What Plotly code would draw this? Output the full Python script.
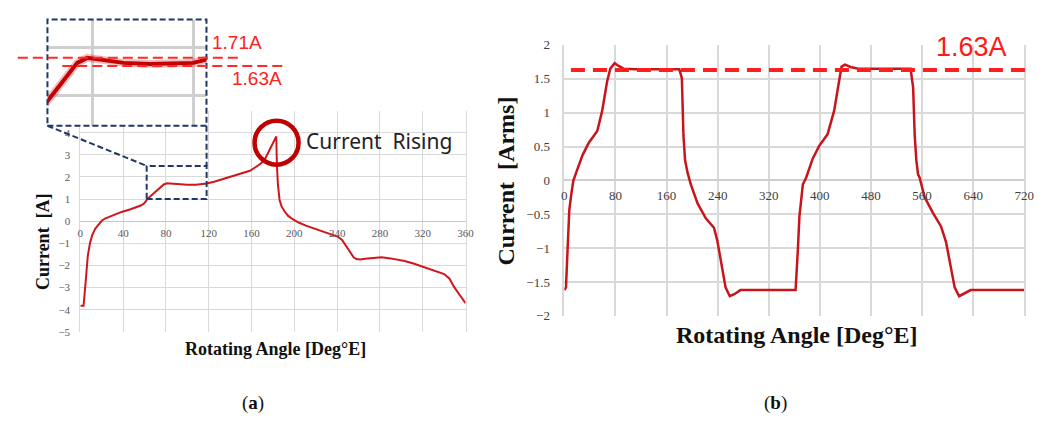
import plotly.graph_objects as go

# ---------------- data ----------------
# (a) phase current over one electrical revolution
a_angle = [0, 3, 4.5, 5.5, 7, 9, 11, 14, 17, 20, 23, 30, 38.5, 47, 57, 60, 62.5,
           66, 70, 74, 78, 81, 86, 92, 100, 108, 113, 118, 125, 137, 150, 158.5,
           164, 169, 173, 177, 180, 183.1, 183.7, 184.6, 186.2, 188, 190.8, 194,
           198.5, 204, 210.8, 220, 229.3, 236, 241, 244.6, 248, 252, 255.4, 258,
           261.6, 266, 272, 281.5, 290, 297, 303, 312, 321.6, 330, 340, 345,
           349.3, 354, 360]
a_current = [-3.82, -3.82, -3.0, -2.53, -1.55, -1.0, -0.64, -0.33, -0.13, 0.02, 0.12,
             0.27, 0.42, 0.54, 0.72, 0.82, 1.0,
             1.15, 1.32, 1.5, 1.66, 1.71, 1.69, 1.66, 1.65, 1.65, 1.66, 1.70, 1.78,
             1.97, 2.15, 2.28,
             2.45, 2.62, 2.85, 3.22, 3.5, 3.83, 2.56, 1.69, 0.96, 0.68, 0.45, 0.25,
             0.09, -0.06, -0.2, -0.35, -0.49, -0.6, -0.71, -0.85, -1.08, -1.38,
             -1.63, -1.71, -1.73, -1.70, -1.67, -1.63, -1.68, -1.74, -1.80, -1.92,
             -2.07, -2.2, -2.39, -2.6, -2.97, -3.3, -3.7]

# (b) RMS current over two electrical revolutions
b_angle = [0, 2.6, 5.2, 7.8, 11, 14, 18, 22, 28.4, 38.6, 51.6, 59.3, 67, 72, 78.8,
           85, 92.7, 110, 140, 170, 180, 184, 186.5, 189, 193, 198, 208.6, 221.5,
           234.3, 239.5, 247, 252.4, 259, 266, 275.6, 300, 330, 362, 365.7, 368,
           373.4, 378.5, 388.8, 399, 412, 422.4, 430, 434, 439.4, 448, 460, 490,
           520, 542, 546, 548.5, 551, 553.7, 556.2, 564, 577, 589.7, 597.5, 605,
           611, 618, 626, 636, 660, 690, 720]
b_current = [-1.62, -1.58, -1.0, -0.44, -0.2, -0.01, 0.1, 0.2, 0.37, 0.56, 0.73,
             1.03, 1.46, 1.65, 1.73, 1.69, 1.65, 1.64, 1.64, 1.64, 1.64, 1.51, 0.66,
             0.3, 0.11, -0.06, -0.34, -0.56, -0.70, -0.89, -1.29, -1.58, -1.71,
             -1.68, -1.62, -1.62, -1.62, -1.62, -1.0, -0.53, -0.06, 0.04, 0.32, 0.51,
             0.68, 1.03, 1.46, 1.68, 1.71, 1.675, 1.65, 1.65, 1.65, 1.65, 1.37, 0.66,
             0.3, 0.09, 0.04, -0.25, -0.48, -0.68, -0.91, -1.29, -1.58, -1.71, -1.67,
             -1.62, -1.62, -1.62, -1.62]

a_xticks = [0, 40, 80, 120, 160, 200, 240, 280, 320, 360]
a_yticks = [-5, -4, -3, -2, -1, 0, 1, 2, 3, 4]
b_xticks = [0, 80, 160, 240, 320, 400, 480, 560, 640, 720]
b_yticks = [-2, -1.5, -1, -0.5, 0, 0.5, 1, 1.5, 2]

peak_level = 1.71      # overshoot peak, (a) detail
steady_level = 1.63    # steady RMS level

# ---------------- layout helpers ----------------
W, H = 1058, 430


def fx(x):
    return x / W


def fy(y):
    return 1 - y / H


# plot areas in pixels: (left, right, top, bottom)
A_BOX = (78.3, 468.3, 107.3, 336.6)
B_BOX = (568.3, 1034.0, 39.3, 320.0)
I_BOX = (45.0, 206.0, 13.0, 123.0)

A_XR, A_YR = [0, 360], [-5, 5]
B_XR, B_YR = [0, 720], [-2, 2]
I_XR, I_YR = [69, 117], [1.032, 2.093]


def dom(box):
    l, r, t, b = box
    return [fx(l), fx(r)], [fy(b), fy(t)]


a_xd, a_yd = dom(A_BOX)
b_xd, b_yd = dom(B_BOX)
i_xd, i_yd = dom(I_BOX)


def a_paper(x, y):
    """(a) data coordinates -> paper coordinates."""
    px = a_xd[0] + (x - A_XR[0]) / (A_XR[1] - A_XR[0]) * (a_xd[1] - a_xd[0])
    py = a_yd[0] + (y - A_YR[0]) / (A_YR[1] - A_YR[0]) * (a_yd[1] - a_yd[0])
    return px, py


a_zero = a_paper(0, 0)[1]
b_zero = b_yd[0] + (0 - B_YR[0]) / (B_YR[1] - B_YR[0]) * (b_yd[1] - b_yd[0])

GRID = "#d9d9d9"
SERIF = "Liberation Serif"
RED = "#d0161a"

fig = go.Figure()

fig.add_trace(go.Scatter(x=a_angle, y=a_current, mode="lines", xaxis="x", yaxis="y",
                         line=dict(color=RED, width=2), showlegend=False,
                         hoverinfo="skip"))
fig.add_trace(go.Scatter(x=b_angle, y=b_current, mode="lines", xaxis="x2", yaxis="y2",
                         line=dict(color="#c8141c", width=2.5), showlegend=False,
                         hoverinfo="skip"))
# magnified detail of (a): soft halo + core line
fig.add_trace(go.Scatter(x=a_angle, y=a_current, mode="lines", xaxis="x3", yaxis="y3",
                         line=dict(color="rgba(200,0,0,0.25)", width=8),
                         showlegend=False, hoverinfo="skip"))
fig.add_trace(go.Scatter(x=a_angle, y=a_current, mode="lines", xaxis="x3", yaxis="y3",
                         line=dict(color="#c40000", width=4), showlegend=False,
                         hoverinfo="skip"))

a_tick_font = dict(family=SERIF, size=11, color="#595959")
b_tick_font = dict(family=SERIF, size=13, color="#404040")

fig.update_layout(
    width=W, height=H,
    margin=dict(l=0, r=0, t=0, b=0),
    paper_bgcolor="white", plot_bgcolor="white",
    xaxis=dict(domain=a_xd, range=A_XR, anchor="free", position=a_zero,
               tickvals=a_xticks, ticktext=[str(v) for v in a_xticks],
               showgrid=True, gridcolor=GRID, gridwidth=1, zeroline=False,
               showline=False, ticks="", tickfont=a_tick_font,
               ticklabelstandoff=4),
    yaxis=dict(domain=a_yd, range=A_YR, anchor="x", dtick=1,
               tickvals=a_yticks, showgrid=True, gridcolor=GRID, gridwidth=1,
               zeroline=True, zerolinecolor="#c8c8c8", zerolinewidth=1.2,
               showline=True, linecolor=GRID, mirror=True, ticks="",
               tickfont=a_tick_font, ticklabelstandoff=7),
    xaxis2=dict(domain=b_xd, range=B_XR, anchor="free", position=b_zero,
                tickvals=b_xticks, showgrid=True, gridcolor=GRID, gridwidth=1.5,
                zeroline=False, showline=False, ticks="", tickfont=b_tick_font,
                ticklabelstandoff=6),
    yaxis2=dict(domain=b_yd, range=B_YR, anchor="x2", tickvals=b_yticks,
                showgrid=True, gridcolor=GRID, gridwidth=1.5, zeroline=True,
                zerolinecolor="#cfcfcf", zerolinewidth=1.5, showline=True,
                linecolor=GRID, linewidth=1.5, mirror=True, ticks="",
                tickfont=b_tick_font, ticklabelstandoff=10),
    xaxis3=dict(domain=i_xd, range=I_XR, anchor="y3", tickvals=[82.6, 113.1],
                showticklabels=False, showgrid=True, gridcolor="#cfcfcf",
                gridwidth=3, zeroline=False, showline=False, ticks=""),
    yaxis3=dict(domain=i_yd, range=I_YR, anchor="x3", tickvals=[1.329, 1.816],
                showticklabels=False, showgrid=True, gridcolor="#cfcfcf",
                gridwidth=3, zeroline=False, showline=False, ticks=""),
)

NAVY = "#1f3868"
shapes = []
# detail frame and the highlighted window in (a)
l, r, t, b = I_BOX
shapes.append(dict(type="rect", xref="paper", yref="paper", x0=fx(l), x1=fx(r),
                   y0=fy(b), y1=fy(t), line=dict(color=NAVY, width=2, dash="6px,3px")))
shapes.append(dict(type="rect", xref="x", yref="y", x0=62, x1=118, y0=1, y1=2.5,
                   line=dict(color=NAVY, width=2, dash="6px,3px")))
bl = a_paper(62, 2.5)
br = a_paper(118, 2.5)
shapes.append(dict(type="line", xref="paper", yref="paper", x0=fx(l), y0=fy(b),
                   x1=bl[0], y1=bl[1], line=dict(color=NAVY, width=2, dash="6px,3px")))
shapes.append(dict(type="line", xref="paper", yref="paper", x0=fx(r), y0=fy(b),
                   x1=br[0], y1=br[1], line=dict(color=NAVY, width=2, dash="6px,3px")))
# reference levels in the detail view
shapes.append(dict(type="line", xref="paper", yref="y3", x0=fx(15), x1=fx(238),
                   y0=peak_level, y1=peak_level,
                   line=dict(color="#ff2a2a", width=2, dash="10px,5px")))
shapes.append(dict(type="line", xref="paper", yref="y3", x0=fx(60), x1=fx(283),
                   y0=steady_level, y1=steady_level,
                   line=dict(color="#ff2a2a", width=2, dash="10px,5px")))
# circle marking the current rise in (a)
shapes.append(dict(type="circle", xref="x", yref="y", xsizemode="pixel",
                   ysizemode="pixel", xanchor=183.4, yanchor=3.55,
                   x0=-22, x1=22, y0=-22, y1=22,
                   line=dict(color="#c00000", width=4.5)))
# steady level in (b)
shapes.append(dict(type="line", xref="paper", yref="y2", x0=fx(575), x1=fx(1040),
                   y0=steady_level, y1=steady_level,
                   line=dict(color="#ff1f1f", width=4, dash="14px,8px")))
fig.update_layout(shapes=shapes)

SANS = "Liberation Sans"
ann = [
    dict(text=f"{peak_level:.2f}A", x=fx(237), y=fy(37), font=dict(family=SANS, size=19, color="#ff2020")),
    dict(text=f"{steady_level:.2f}A", x=fx(257), y=fy(74), font=dict(family=SANS, size=19, color="#ff2020")),
    dict(text=f"{steady_level:.2f}A", x=fx(981), y=fy(41), font=dict(family=SANS, size=27, color="#ff1a1a")),
    dict(text="Current  Rising", x=fx(305), y=fy(139), xanchor="left",
         font=dict(family="Noto Sans", size=21, color="#222222")),
    dict(text="<b>Rotating Angle [Deg°E]</b>", x=fx(276), y=fy(354),
         font=dict(family=SERIF, size=18, color="#111111")),
    dict(text="<b>Current  [A]</b>", x=fx(40), y=fy(243), textangle=-90,
         font=dict(family=SERIF, size=18, color="#111111")),
    dict(text="<b>Rotating Angle [Deg°E]</b>", x=fx(804), y=fy(340),
         font=dict(family=SERIF, size=24, color="#111111")),
    dict(text="<b>Current  [Arms]</b>", x=fx(509), y=fy(180), textangle=-90,
         font=dict(family=SERIF, size=24, color="#111111")),
    dict(text="(<b>a</b>)", x=fx(253), y=fy(410), font=dict(family=SERIF, size=19, color="#111111")),
    dict(text="(<b>b</b>)", x=fx(782), y=fy(410), font=dict(family=SERIF, size=19, color="#111111")),
]
for a in ann:
    a.update(xref="paper", yref="paper", showarrow=False)
    a.setdefault("xanchor", "center")
    a.setdefault("yanchor", "middle")
fig.update_layout(annotations=ann)

fig.write_html("out.html")
